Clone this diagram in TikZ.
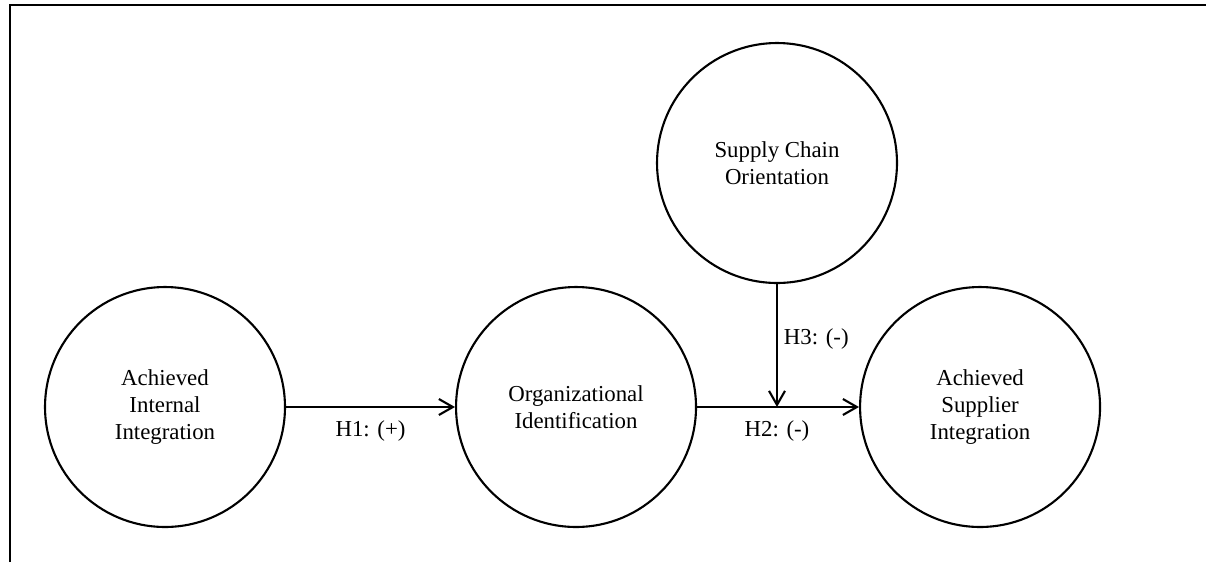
\documentclass[tikz,border=0pt]{standalone}
\usepackage{fontspec}
\setmainfont{Liberation Serif}
\usetikzlibrary{arrows.meta,positioning}

\begin{document}
\begin{tikzpicture}[
    x=0.02cm, y=-0.02cm,
    font=\fontsize{13}{15.6}\selectfont,
    construct/.style={circle, draw, line width=1.2pt, minimum size=4.8cm, inner sep=0pt, align=center},
    arrow/.style={-{Straight Barb[length=2.8mm, width=3.2mm]}, line width=1.2pt},
    frame/.style={line width=1.3pt}
]
\useasboundingbox (0,0) rectangle (1206,562);

% Frame
\draw[frame] (10,562) -- (10,5) -- (1206,5);

% Constructs
\node[construct] (aii) at (165,407) {Achieved\\Internal\\Integration};
\node[construct, right=3.38cm of aii] (oi) {Organizational\\Identification};
\node[construct, right=3.24cm of oi] (asi) {Achieved\\Supplier\\Integration};
\node[construct] (sco) at (777,163) {Supply Chain\\Orientation};

% Paths
\coordinate (join) at (sco.south |- oi.east);
\draw[arrow] (aii) -- node[below=4pt] (h1) {H1: (+)} (oi);
\draw[arrow] (oi) -- (asi);
\node[below=4pt of join] (h2) {H2: (-)};
\draw[arrow] (sco.south) -- node[right, pos=0.45] (h3) {H3: (-)} (join);

\end{tikzpicture}
\end{document}
